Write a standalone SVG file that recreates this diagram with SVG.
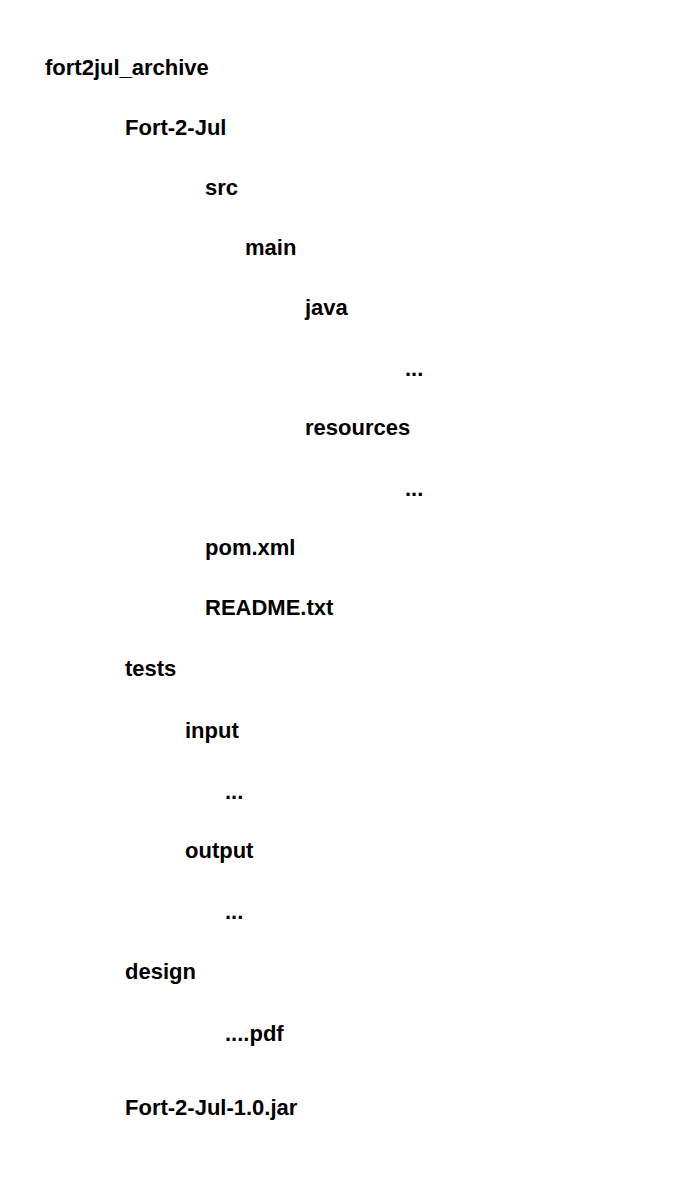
<svg xmlns="http://www.w3.org/2000/svg" width="680" height="1180" viewBox="0 0 680 1180">
<style>
.t{font-family:"Liberation Sans",Arial,sans-serif;font-weight:bold;font-size:22px;fill:#000}
</style>
<rect width="680" height="1180" fill="#fff"/>
<g id="connectors"></g>
<g id="n-root"><text class="t" x="45" y="75">fort2jul_archive</text></g>
<g id="n-fort2jul"><text class="t" x="125" y="135">Fort-2-Jul</text></g>
<g id="n-src"><text class="t" x="205" y="195">src</text></g>
<g id="n-main"><text class="t" x="245" y="255">main</text></g>
<g id="n-java"><text class="t" x="305" y="315">java</text></g>
<g id="n-java-dots"><text class="t" x="405" y="376">...</text></g>
<g id="n-resources"><text class="t" x="305" y="435">resources</text></g>
<g id="n-res-dots"><text class="t" x="405" y="496">...</text></g>
<g id="n-pom"><text class="t" x="205" y="555">pom.xml</text></g>
<g id="n-readme"><text class="t" x="205" y="615">README.txt</text></g>
<g id="n-tests"><text class="t" x="125" y="676">tests</text></g>
<g id="n-input"><text class="t" x="185" y="738">input</text></g>
<g id="n-input-dots"><text class="t" x="225" y="799">...</text></g>
<g id="n-output"><text class="t" x="185" y="858">output</text></g>
<g id="n-output-dots"><text class="t" x="225" y="919">...</text></g>
<g id="n-design"><text class="t" x="125" y="979">design</text></g>
<g id="n-pdf"><text class="t" x="225" y="1041">....pdf</text></g>
<g id="n-jar"><text class="t" x="125" y="1115">Fort-2-Jul-1.0.jar</text></g>
</svg>
